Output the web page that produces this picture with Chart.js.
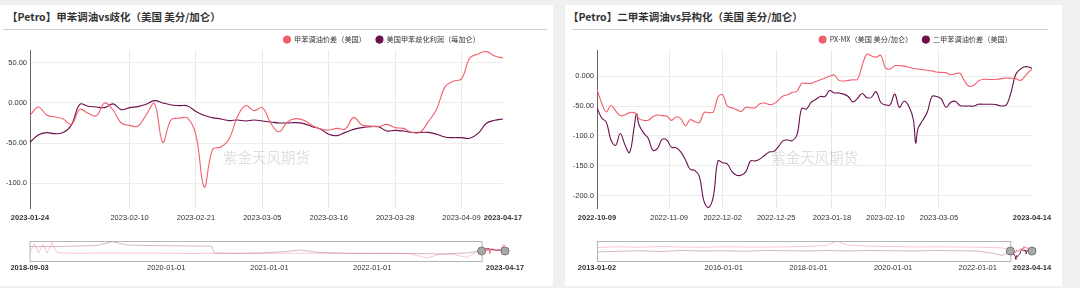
<!DOCTYPE html>
<html>
<head>
<meta charset="utf-8">
<script src="https://cdn.jsdelivr.net/npm/chart.js@4.4.0/dist/chart.umd.min.js"></script>
<style>
  body { margin: 0; width: 1080px; height: 288px; background: #f0f0f0; position: relative; overflow: hidden; }
  .card { position: absolute; top: 5px; height: 281px; background: #fff; }
  .title { position: absolute; top: 9px; font: bold 10.5px "Noto Sans CJK SC", sans-serif; color: #333; white-space: nowrap; }
  .rule { position: absolute; top: 29px; height: 1px; background: #cfcfcf; }
  canvas { position: absolute; }
</style>
</head>
<body>
<div class="card" style="left:0;width:553px"></div>
<div class="card" style="left:565px;width:497px"></div>
<div class="title" style="left:7px">【Petro】甲苯调油vs歧化（美国 美分/加仑）</div>
<div class="title" style="left:568px">【Petro】二甲苯调油vs异构化（美国 美分/加仑）</div>
<div class="rule" style="left:3px;width:544px"></div>
<div class="rule" style="left:572px;width:476px"></div>
<canvas id="mainL" width="540" height="200" style="left:0;top:26px"></canvas>
<canvas id="mainR" width="540" height="200" style="left:540px;top:26px"></canvas>
<canvas id="ovL" width="540" height="40" style="left:0;top:236px"></canvas>
<canvas id="ovR" width="540" height="40" style="left:540px;top:236px"></canvas>
<script>
const PINK = '#f25f6c';
const PURPLE = '#6b0f4e';

// left: toluene blending vs disproportionation
const leftDates = ['2023-01-24','2023-01-25','2023-01-26','2023-01-27','2023-01-30','2023-01-31','2023-02-01','2023-02-02','2023-02-03','2023-02-06','2023-02-07','2023-02-08',
  '2023-02-10','2023-02-13','2023-02-14','2023-02-15','2023-02-16','2023-02-17','2023-02-19','2023-02-20',
  '2023-02-21','2023-02-22','2023-02-23','2023-02-24','2023-02-27','2023-02-28','2023-03-01','2023-03-02',
  '2023-03-05','2023-03-06','2023-03-07','2023-03-08','2023-03-09','2023-03-10','2023-03-13','2023-03-14',
  '2023-03-16','2023-03-17','2023-03-20','2023-03-21','2023-03-22','2023-03-23','2023-03-24','2023-03-27',
  '2023-03-28','2023-03-29','2023-03-30','2023-03-31','2023-04-03','2023-04-04','2023-04-05','2023-04-06',
  '2023-04-09','2023-04-10','2023-04-11','2023-04-12','2023-04-14','2023-04-17'];
const leftBlend = [-15.8,-5,-15,-17.5,-20,-26.7,-8,-13,-16,0,-8.8,-25,-28,-29,-15,-1,-49,-21,-19,-19,
  -40,-105,-58,-55,-45,-17,-3.3,-9.6,-5.8,-25,-36,-24,-19.6,-21.7,-28,-32.5,-33.7,-31.7,-32.5,-18,
  -27.5,-28.7,-29.6,-26.7,-30.8,-31.7,-36.7,-36.7,-23.3,-8,20,27,30,56,61,64,58.5,56];
const leftTdp = [-49,-40,-37,-38.3,-37,-27.5,-1.7,-4.2,-5,-5.8,-1.2,-8.3,-5.8,-4.6,-1.7,2.9,0,-2.5,-3.3,-3.7,
  -10.8,-15.8,-18.3,-20,-22,-21.3,-22.5,-21.3,-22.5,-23.8,-25,-25,-24.6,-25.8,-29.6,-32.5,-39,-40.8,-36.7,-33,
  -30.8,-29.6,-29.6,-35,-34.2,-35,-36.7,-36.7,-36.7,-39,-42.5,-43.3,-43.3,-44,-38,-25.4,-21.7,-20];
const leftTicks = ['2023-01-24','2023-02-10','2023-02-21','2023-03-05','2023-03-16','2023-03-28','2023-04-09','2023-04-17'];
const leftYTicks = [-100, -50, 0, 50];

// right: xylene blending vs isomerization
const rightDates = ['2022-10-09','2022-10-11','2022-10-13','2022-10-15','2022-10-17','2022-10-19','2022-10-21','2022-10-23','2022-10-25','2022-10-26','2022-10-27','2022-10-29','2022-10-31',
  '2022-11-02','2022-11-04','2022-11-06','2022-11-08','2022-11-10','2022-11-12','2022-11-14','2022-11-16','2022-11-18','2022-11-20','2022-11-22','2022-11-24','2022-11-26','2022-11-28','2022-11-30',
  '2022-12-02','2022-12-04','2022-12-06','2022-12-08','2022-12-10','2022-12-12','2022-12-14','2022-12-16','2022-12-18','2022-12-20','2022-12-22','2022-12-24','2022-12-26','2022-12-28','2022-12-30',
  '2023-01-01','2023-01-03','2023-01-05','2023-01-07','2023-01-09','2023-01-11','2023-01-13','2023-01-15','2023-01-17','2023-01-19','2023-01-21','2023-01-23','2023-01-25','2023-01-27','2023-01-29','2023-01-31',
  '2023-02-02','2023-02-04','2023-02-06','2023-02-08','2023-02-10','2023-02-12','2023-02-14','2023-02-16','2023-02-18','2023-02-20','2023-02-22','2023-02-23','2023-02-24','2023-02-26','2023-02-28',
  '2023-03-02','2023-03-04','2023-03-06','2023-03-08','2023-03-10','2023-03-12','2023-03-14','2023-03-16','2023-03-18','2023-03-20','2023-03-22','2023-03-24','2023-03-26','2023-03-28','2023-03-30',
  '2023-04-01','2023-04-03','2023-04-05','2023-04-07','2023-04-09','2023-04-11','2023-04-13','2023-04-14'];
const rightPxMx = [-22,-45,-60,-49,-58,-66,-65,-61,-61,-64,-71,-74,-74,
  -68,-65,-66,-67,-74,-68,-71,-83,-73,-76,-78,-61,-61,-60,-35,
  -31,-50,-53,-56,-59,-52,-53,-53,-46,-45,-47.5,-46,-40,-33,-31,
  -27,-25,-12,-12,-12,-9,-6,-3,0,2,-7,-8,-7,-6,-5,18,
  37,34,32,35,14,12,17.5,17.8,17,15,13,12.5,12,11,10,
  9,7,6.4,6,2.5,4,5,-8,-17,-15,-8,-5,-5.5,-5.5,-5,
  -4,-3,-3.5,-4,-7,0,9,11];
const rightBlend = [-53,-70,-77,-107,-116,-96,-115,-128,-85,-63,-81,-95,-104,
  -124,-121,-106,-107,-119,-120,-127,-140,-156,-158,-168,-210,-220,-202,-142,
  -145,-147,-160,-166,-166,-160,-142,-142,-139,-133,-127,-126,-118,-108,-107,
  -108,-98,-54,-55,-44,-39,-34,-34,-24,-28,-28,-30,-34,-43,-37,-29,
  -36,-35,-26,-44,-48,-48,-30,-52,-42,-50,-73,-112,-88,-74,-60,
  -34,-34,-38,-52,-44,-42,-49,-50,-50,-50,-47,-47,-47,-47,-48,
  -50,-48,-27,3,12,16,15,13];
const rightTicks = ['2022-10-09','2022-11-09','2022-12-02','2022-12-25','2023-01-18','2023-02-10','2023-03-05','2023-04-14'];
const rightYTicks = [-200, -150, -100, -50, 0];

// long history shown in the zoom sliders
const leftHistDates = ['2018-09-03','2018-09-20','2018-10-05','2018-10-20','2018-11-05','2018-11-20','2018-12-10','2019-01-15','2019-03-01','2019-05-01','2019-06-25','2019-08-15','2019-11-01',
  '2020-01-15','2020-04-01','2020-06-10','2020-06-20','2020-09-01','2020-12-01','2021-03-01','2021-04-19','2021-07-01','2021-10-01','2022-01-01','2022-03-15','2022-05-15','2022-07-14','2022-09-01','2022-10-15','2022-12-02','2023-01-24'];
const leftHistBlend = [-90,100,-90,80,-90,110,-85,-90,-95,-90,-88,-92,-90,-95,-100,-95,-100,-98,-96,-95,-92,-94,-96,-92,-98,-105,-190,-110,-120,-175,-16];
const leftHistTdp = [36,40,35,38,40,36,40,45,50,60,136,70,60,55,50,45,-90,-96,-90,-60,-30,-80,-96,-100,-95,-98,-105,-110,-100,-90,-49];
const leftOvTicks = ['2018-09-03','2020-01-01','2021-01-01','2022-01-01','2023-04-17'];

const rightHistDates = ['2013-01-02','2013-07-01','2014-01-01','2014-07-01','2015-01-01','2015-07-01','2016-01-01','2016-07-01','2017-01-01','2017-07-01','2018-01-01','2018-06-01',
  '2018-09-05','2018-12-01','2019-06-01','2020-01-01','2020-07-01','2021-01-01','2021-07-01','2022-01-01','2022-05-01','2022-08-01','2022-10-09'];
const rightHistPxMx = [20,35,25,40,30,25,35,30,28,35,40,60,150,70,45,40,30,35,30,25,20,10,-22];
const rightHistBlend = [-70,-55,-45,-60,-40,-50,-45,-55,-40,-45,-50,-40,-45,-50,-40,-45,-50,-40,-45,-50,-90,-140,-53];
const rightOvTicks = ['2013-01-02','2016-01-01','2018-01-01','2020-01-01','2022-01-01','2023-04-14'];

Chart.defaults.font.family = '"Liberation Sans", Arial, sans-serif';
Chart.defaults.color = '#333';

const dayOf = (d, base) => Math.round((Date.parse(d) - Date.parse(base)) / 864e5);
const pts = (dates, vals, base) => dates.map((d, i) => ({ x: dayOf(d, base), y: vals[i] }));
const isEdge = (c, first, last) => c.tick && (c.tick.value === first || c.tick.value === last);
const line = color => ({ borderColor: color, backgroundColor: color, borderWidth: 1.1, pointRadius: 0, tension: 0.4 });

// keeps the legend box a fixed height and nudges it left, as in the original
const legendFit = {
  id: 'legendFit',
  beforeLayout(chart, args, opts) {
    const lg = chart.legend;
    if (!lg || lg._fixed) return;
    const fit = lg.fit;
    lg.fit = function () { fit.call(this); this.height = opts.height; };
    lg._fixed = true;
  },
  afterLayout(chart, args, opts) {
    chart.legend.left -= opts.shift;
    chart.legend.right -= opts.shift;
  }
};

const watermark = {
  id: 'watermark',
  beforeDatasetsDraw(chart) {
    const { ctx, chartArea: a } = chart;
    ctx.save();
    ctx.font = '14.5px "Noto Sans CJK SC"';
    ctx.fillStyle = 'rgba(0,0,0,0.13)';
    ctx.textAlign = 'center';
    ctx.textBaseline = 'middle';
    ctx.fillText('紫金天风期货', (a.left + a.right) / 2, a.top + a.height * 0.68);
    ctx.restore();
  }
};

const sliderFrame = {
  id: 'sliderFrame',
  afterDatasetsDraw(chart, args, o) {
    const { ctx, chartArea: a, scales: { x } } = chart;
    const xs = x.getPixelForValue(o.start), xe = x.getPixelForValue(o.end);
    const ym = (a.top + a.bottom) / 2;
    ctx.save();
    ctx.strokeStyle = '#b5b5b5';
    ctx.lineWidth = 1;
    ctx.strokeRect(a.left + 0.5, a.top + 0.5, xs - a.left, a.bottom - a.top);
    [xs, xe].forEach(px => {
      ctx.beginPath();
      ctx.arc(px, ym, 4, 0, Math.PI * 2);
      ctx.fillStyle = '#a9a9a9';
      ctx.fill();
      ctx.strokeStyle = '#777';
      ctx.stroke();
    });
    ctx.restore();
  }
};

function mainChart(id, o) {
  return new Chart(document.getElementById(id), {
    type: 'line',
    data: o.data,
    options: {
      responsive: false,
      animation: false,
      layout: { padding: { left: 0, right: o.padRight, top: 0, bottom: 0 } },
      plugins: {
        tooltip: { enabled: false },
        legendFit: { height: 24, shift: o.legendShift },
        legend: {
          position: 'top', align: 'end',
          labels: {
            usePointStyle: true, pointStyle: 'circle', boxWidth: 7, boxHeight: 5, pointStyleWidth: 7,
            padding: 10, color: '#333', font: { size: 7.2, family: '"Noto Sans CJK SC", sans-serif' }
          }
        }
      },
      scales: {
        x: Object.assign({
          ticks: {
            autoSkip: false, maxRotation: 0, padding: 5,
            font: c => ({ size: 7.5, weight: isEdge(c, o.first, o.last) ? 'bold' : 'normal' }),
            callback: o.xLabel
          },
          grid: { drawTicks: false, color: c => isEdge(c, o.first, o.last) ? 'rgba(0,0,0,0)' : '#e9e9e9' },
          border: { display: false },
          afterFit: s => { s.height = 18; }
        }, o.x),
        y: {
          min: o.yMin, max: o.yMax,
          afterBuildTicks: s => { s.ticks = o.yTicks.map(v => ({ value: v })); },
          ticks: { padding: 3, font: { size: 7.5 }, callback: v => Number(v).toPrecision(4) },
          grid: { drawTicks: false, color: '#ececec' },
          border: { display: true, color: '#666' },
          afterFit: s => { s.width = o.yWidth; }
        }
      }
    },
    plugins: [legendFit, watermark]
  });
}

function overview(id, o) {
  const ticks = o.ticks.map(d => dayOf(d, o.base));
  const last = ticks[ticks.length - 1];
  return new Chart(document.getElementById(id), {
    type: 'line',
    data: {
      datasets: [
        Object.assign(line('rgba(242,95,108,0.35)'), { data: pts(o.histDates, o.histA, o.base), borderWidth: 1, tension: 0 }),
        Object.assign(line('rgba(107,15,78,0.3)'), { data: pts(o.histDates, o.histB, o.base), borderWidth: 1, tension: 0 }),
        Object.assign(line(PINK), { data: pts(o.winDates, o.winA, o.base), borderWidth: 1 }),
        Object.assign(line(PURPLE), { data: pts(o.winDates, o.winB, o.base), borderWidth: 1 })
      ]
    },
    options: {
      responsive: false,
      animation: false,
      layout: { padding: { left: o.padLeft, right: o.padRight, top: 5, bottom: 0 } },
      plugins: {
        legend: { display: false },
        tooltip: { enabled: false },
        sliderFrame: { start: dayOf(o.winDates[0], o.base), end: last }
      },
      scales: {
        x: {
          type: 'linear', min: 0, max: last,
          afterBuildTicks: s => { s.ticks = ticks.map(v => ({ value: v })); },
          ticks: {
            autoSkip: false, maxRotation: 0, padding: 2,
            font: c => ({ size: 7.5, weight: isEdge(c, 0, last) ? 'bold' : 'normal' }),
            callback: v => o.ticks[ticks.indexOf(v)]
          },
          grid: { display: false, drawTicks: false },
          border: { display: false },
          afterFit: s => { s.height = 15; }
        },
        y: { display: false, min: -250, max: 150 }
      }
    },
    plugins: [sliderFrame]
  });
}

mainChart('mainL', {
  data: {
    labels: leftDates,
    datasets: [
      Object.assign(line(PINK), { label: '甲苯调油价差（美国）', data: leftBlend }),
      Object.assign(line(PURPLE), { label: '美国甲苯歧化利润（每加仑）', data: leftTdp })
    ]
  },
  padRight: 37, yWidth: 30, yMin: -131, yMax: 66, yTicks: leftYTicks, legendShift: 13,
  first: 0, last: leftDates.length - 1,
  xLabel: v => leftDates[v],
  x: {
    type: 'category', offset: false,
    afterBuildTicks: s => { s.ticks = s.ticks.filter(t => leftTicks.includes(leftDates[t.value])); }
  }
});

const rTicks = rightTicks.map(d => dayOf(d, rightDates[0]));
mainChart('mainR', {
  data: {
    datasets: [
      Object.assign(line(PINK), { label: 'PX-MX（美国 美分/加仑）', data: pts(rightDates, rightPxMx, rightDates[0]) }),
      Object.assign(line(PURPLE), { label: '二甲苯调油价差（美国）', data: pts(rightDates, rightBlend, rightDates[0]) })
    ]
  },
  padRight: 48, yWidth: 57, yMin: -221, yMax: 44, yTicks: rightYTicks, legendShift: 10,
  first: 0, last: rTicks[rTicks.length - 1],
  xLabel: v => rightTicks[rTicks.indexOf(v)],
  x: {
    type: 'linear', min: 0, max: rTicks[rTicks.length - 1],
    afterBuildTicks: s => { s.ticks = rTicks.map(v => ({ value: v })); }
  }
});

overview('ovL', {
  base: leftOvTicks[0], ticks: leftOvTicks, padLeft: 29.6, padRight: 35,
  histDates: leftHistDates, histA: leftHistBlend, histB: leftHistTdp,
  winDates: leftDates, winA: leftBlend, winB: leftTdp
});
overview('ovR', {
  base: rightOvTicks[0], ticks: rightOvTicks, padLeft: 57, padRight: 48,
  histDates: rightHistDates, histA: rightHistPxMx, histB: rightHistBlend,
  winDates: rightDates, winA: rightPxMx, winB: rightBlend
});
</script>
</body>
</html>
